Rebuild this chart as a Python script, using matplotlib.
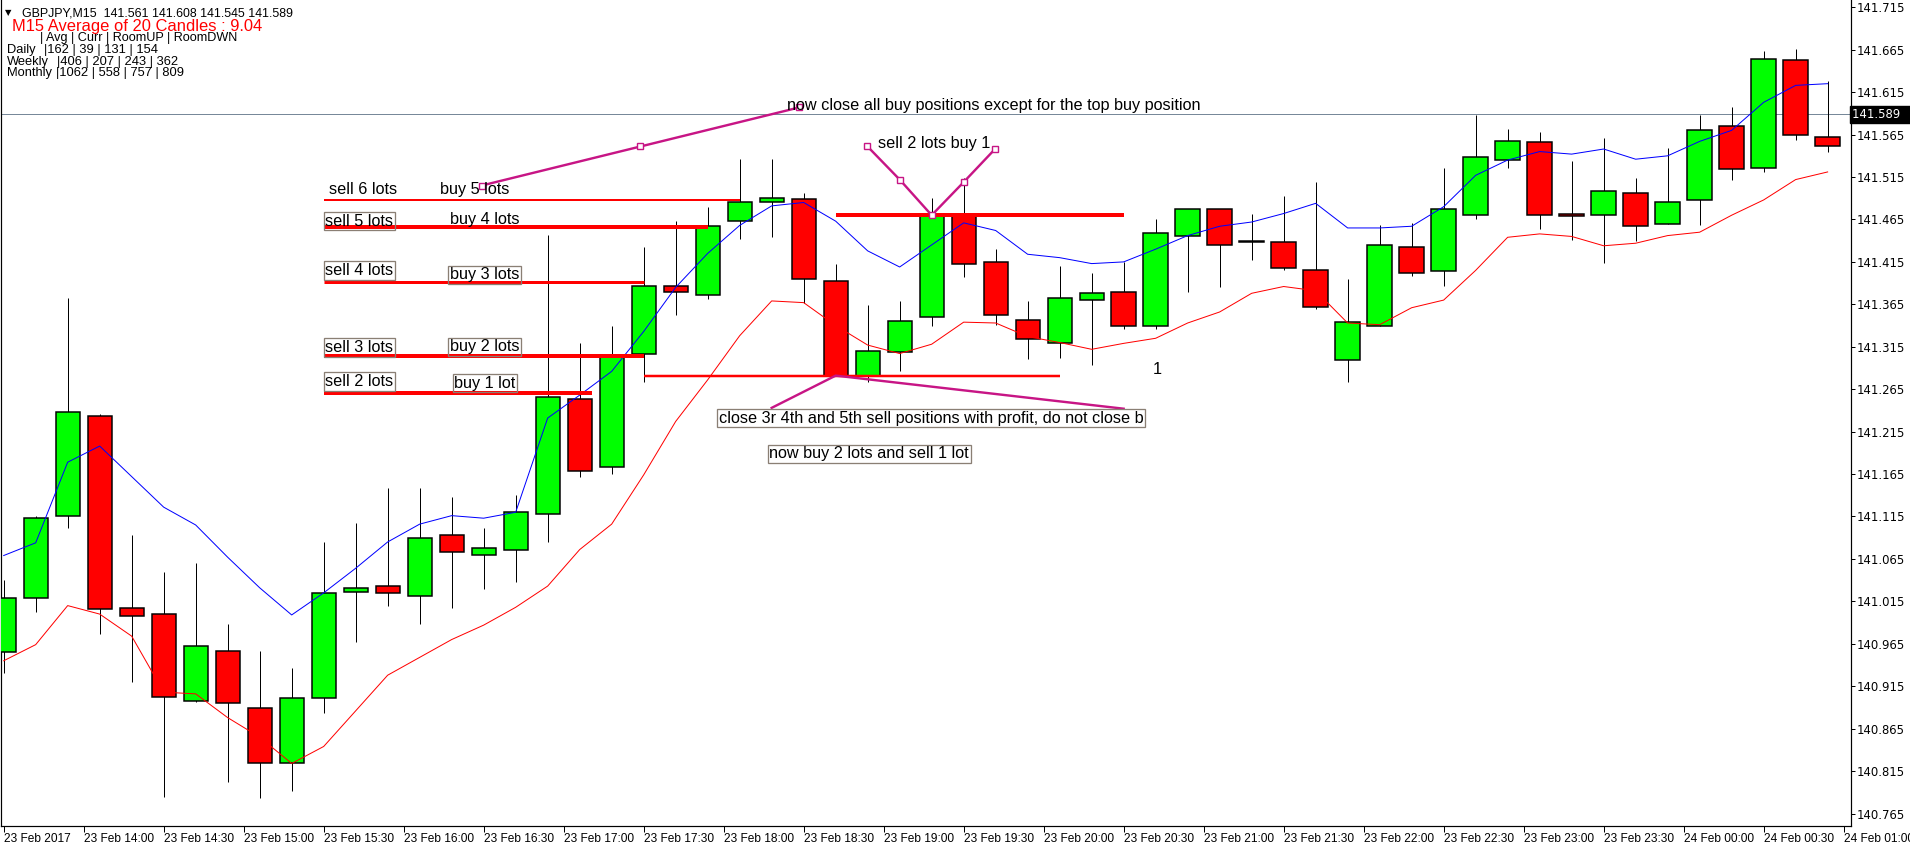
import matplotlib
matplotlib.use("Agg")
import matplotlib.pyplot as plt
from matplotlib.transforms import blended_transform_factory

# ---------------- data ----------------
opens = [140.955, 141.019, 141.115, 141.234, 141.007, 141.000, 140.898, 140.957, 140.889, 140.824,
         140.901, 141.026, 141.033, 141.021, 141.093, 141.070, 141.076, 141.118, 141.254, 141.173,
         141.307, 141.387, 141.376, 141.463, 141.486, 141.489, 141.392, 141.281, 141.309, 141.350,
         141.471, 141.415, 141.347, 141.320, 141.370, 141.379, 141.340, 141.445, 141.477, 141.438,
         141.439, 141.406, 141.299, 141.339, 141.433, 141.404, 141.470, 141.535, 141.556, 141.471,
         141.470, 141.496, 141.460, 141.488, 141.575, 141.526, 141.653, 141.562]
highs = [141.040, 141.115, 141.373, 141.236, 141.093, 141.050, 141.060, 140.988, 140.956, 140.937,
         141.085, 141.107, 141.149, 141.149, 141.138, 141.102, 141.140, 141.447, 141.320, 141.339,
         141.433, 141.463, 141.480, 141.536, 141.536, 141.496, 141.413, 141.364, 141.369, 141.490,
         141.514, 141.430, 141.369, 141.410, 141.402, 141.415, 141.466, 141.477, 141.477, 141.471,
         141.493, 141.509, 141.395, 141.459, 141.461, 141.526, 141.588, 141.572, 141.568, 141.534,
         141.561, 141.514, 141.549, 141.588, 141.598, 141.664, 141.666, 141.628]
lows = [140.930, 141.003, 141.102, 140.977, 140.920, 140.784, 140.896, 140.802, 140.783, 140.791,
        140.884, 140.967, 141.010, 140.988, 141.007, 141.030, 141.038, 141.085, 141.161, 141.165,
        141.273, 141.353, 141.371, 141.442, 141.444, 141.367, 141.281, 141.273, 141.286, 141.339,
        141.397, 141.341, 141.301, 141.302, 141.293, 141.336, 141.336, 141.379, 141.385, 141.417,
        141.406, 141.359, 141.273, 141.339, 141.398, 141.387, 141.466, 141.526, 141.454, 141.441,
        141.414, 141.440, 141.460, 141.459, 141.511, 141.521, 141.559, 141.544]
closes = [141.019, 141.113, 141.238, 141.006, 140.998, 140.902, 140.962, 140.895, 140.824, 140.901,
          141.025, 141.031, 141.025, 141.090, 141.073, 141.078, 141.120, 141.256, 141.169, 141.304,
          141.387, 141.379, 141.457, 141.485, 141.490, 141.395, 141.281, 141.310, 141.345, 141.470,
          141.413, 141.352, 141.324, 141.372, 141.378, 141.339, 141.449, 141.477, 141.435, 141.440,
          141.408, 141.362, 141.344, 141.435, 141.402, 141.477, 141.539, 141.557, 141.470, 141.469,
          141.498, 141.457, 141.486, 141.571, 141.524, 141.654, 141.565, 141.552]
ma_blue = [141.069, 141.084, 141.179, 141.198, 141.162, 141.126, 141.105, 141.067, 141.031, 140.999,
           141.025, 141.054, 141.085, 141.106, 141.116, 141.113, 141.120, 141.231, 141.258, 141.286,
           141.333, 141.385, 141.425, 141.458, 141.481, 141.485, 141.463, 141.428, 141.409, 141.435,
           141.461, 141.452, 141.424, 141.420, 141.413, 141.415, 141.430, 141.446, 141.457, 141.462,
           141.472, 141.484, 141.455, 141.455, 141.457, 141.480, 141.517, 141.535, 141.545, 141.542,
           141.548, 141.536, 141.540, 141.557, 141.570, 141.603, 141.623, 141.625]
ma_red = [140.945, 140.964, 141.010, 141.000, 140.974, 140.908, 140.906, 140.878, 140.855, 140.824,
          140.844, 140.886, 140.928, 140.949, 140.970, 140.987, 141.008, 141.033, 141.076, 141.106,
          141.164, 141.227, 141.276, 141.328, 141.369, 141.367, 141.340, 141.317, 141.307, 141.318,
          141.344, 141.343, 141.327, 141.320, 141.312, 141.319, 141.325, 141.343, 141.356, 141.378,
          141.386, 141.381, 141.343, 141.341, 141.361, 141.370, 141.405, 141.444, 141.448, 141.445,
          141.434, 141.437, 141.446, 141.450, 141.470, 141.488, 141.512, 141.521]

y_tick_labels = ["141.715", "141.665", "141.615", "141.565", "141.515", "141.465", "141.415",
                 "141.365", "141.315", "141.265", "141.215", "141.165", "141.115", "141.065",
                 "141.015", "140.965", "140.915", "140.865", "140.815", "140.765"]
x_tick_labels = ["23 Feb 2017", "23 Feb 14:00", "23 Feb 14:30", "23 Feb 15:00", "23 Feb 15:30",
                 "23 Feb 16:00", "23 Feb 16:30", "23 Feb 17:00", "23 Feb 17:30", "23 Feb 18:00",
                 "23 Feb 18:30", "23 Feb 19:00", "23 Feb 19:30", "23 Feb 20:00", "23 Feb 20:30",
                 "23 Feb 21:00", "23 Feb 21:30", "23 Feb 22:00", "23 Feb 22:30", "23 Feb 23:00",
                 "23 Feb 23:30", "24 Feb 00:00", "24 Feb 00:30", "24 Feb 01:00"]

bid_price = 141.589
header_symbol = "GBPJPY,M15  141.561 141.608 141.545 141.589"
header_avg = "M15 Average of 20 Candles : 9.04"
table_head = "| Avg | Curr | RoomUP | RoomDWN"
table_rows = ["Daily", "Weekly", "Monthly"]
table_vals = ["|162 | 39 | 131 | 154", "|406 | 207 | 243 | 362", "|1062 | 558 | 757 | 809"]

# horizontal level objects (start bar, end bar, price)
level_start = [10, 10, 10, 10, 10, 20, 26]
level_end = [23, 22, 20, 20, 18.4, 33, 35]
level_price = [141.488, 141.456, 141.391, 141.304, 141.260, 141.281, 141.470]

# text objects (bar, price, text)
note_x = [10.18, 13.63, 10.05, 13.95, 10.05, 13.95, 10.05, 13.95, 10.05, 14.08,
          24.48, 27.32, 22.35, 23.93, 35.9]
note_y = [141.500, 141.500, 141.463, 141.465, 141.405, 141.400, 141.314, 141.315, 141.274, 141.272,
          141.599, 141.555, 141.231, 141.189, 141.288]
note_text = ["sell 6 lots", "buy 5 lots", "sell 5 lots", "buy 4 lots", "sell 4 lots", "buy 3 lots",
             "sell 3 lots", "buy 2 lots", "sell 2 lots", "buy 1 lot",
             "now close all buy positions except for the top buy position", "sell 2 lots buy 1",
             "close 3r 4th and 5th sell positions with profit, do not close b",
             "now buy 2 lots and sell 1 lot", "1"]
note_boxed = [False, False, True, False, True, True, True, True, True, True,
              False, False, True, True, False]

# trend-line objects
trend1_x = [14.94, 19.90, 24.86]
trend1_y = [141.505, 141.551, 141.597]
trend2_x = [26.97, 28.0, 29.0, 30.0, 30.98]
trend2_y = [141.552, 141.512, 141.470, 141.509, 141.548]
trend3_x = [24.0, 26.0, 35.0]
trend3_y = [141.243, 141.281, 141.242]

# ---------------- layout ----------------
W, H = 1910, 850
fig = plt.figure(figsize=(W / 100, H / 100), dpi=100)
ax = fig.add_axes([1 / W, 24 / H, 1850 / W, 826 / H])
ax.set_xlim(-0.084, 57.73)
ax.set_ylim(140.7503, 141.7236)

PX = 0.72  # points per pixel
GREEN, RED, MAG = "#00FF00", "#FF0000", "#C71585"

idx = list(range(len(opens)))
# wicks
ax.vlines(idx, lows, highs, color="black", lw=1.0 * PX, zorder=3)
# bodies
bottoms = [min(o, c) for o, c in zip(opens, closes)]
heights = [max(abs(c - o), 0.0012) for o, c in zip(opens, closes)]
colors = [GREEN if c >= o else RED for o, c in zip(opens, closes)]
ax.bar(idx, heights, bottom=bottoms, width=0.76, color=colors, edgecolor="black",
       linewidth=1.5 * PX, zorder=4)

# moving averages
ax.plot(idx, ma_blue, color="#0000FF", lw=1.0 * PX, zorder=5)
ax.plot(idx, ma_red, color="#FF0000", lw=1.0 * PX, zorder=5)

# bid line
ax.axhline(bid_price, color="#778899", lw=1.0 * PX, zorder=1)

# level lines
level_w = [2, 4, 3, 4, 4, 2.5, 4]
for s, e, p, w in zip(level_start, level_end, level_price, level_w):
    ax.plot([s, e], [p, p], color=RED, lw=w * PX, solid_capstyle="butt", zorder=6)

# trend lines
for tx, ty, mk in [(trend1_x, trend1_y, True), (trend2_x, trend2_y, True), (trend3_x, trend3_y, False)]:
    ax.plot(tx, ty, color=MAG, lw=2.4 * PX, zorder=7)
    if mk:
        ax.plot(tx, ty, ls="none", marker="s", ms=4, mfc="white", mec=MAG, mew=1.4 * PX, zorder=8)

# text objects
for x, y, t, b in zip(note_x, note_y, note_text, note_boxed):
    kw = {}
    if b:
        kw["bbox"] = dict(boxstyle="square,pad=0.1", fc="none", ec="#8a7f74", lw=1.3 * PX)
    ax.text(x, y, t, ha="left", va="center", fontsize=11.7, family="Liberation Sans",
            color="black", zorder=9, **kw)

# axes styling
for sp in ["left", "bottom", "right"]:
    ax.spines[sp].set_color("black")
    ax.spines[sp].set_linewidth(1.2 * PX)
ax.spines["top"].set_visible(False)
ax.yaxis.tick_right()
ax.set_yticks([float(v) for v in y_tick_labels])
ax.set_yticklabels(y_tick_labels, fontsize=8.4, family="DejaVu Sans")
ax.tick_params(axis="y", direction="out", length=4 * PX, width=1 * PX, pad=1.5, colors="black")
xt = [2.5 * k for k in range(len(x_tick_labels))]
ax.set_xticks(xt)
ax.set_xticklabels(x_tick_labels, fontsize=8.6, family="Liberation Sans", ha="left")
ax.tick_params(axis="x", direction="out", length=6 * PX, width=1 * PX, pad=1.0, colors="black")

# bid label on price axis
trans = blended_transform_factory(ax.transAxes, ax.transData)
ax.text(1.0006, bid_price, "141.589  ", transform=trans, ha="left", va="center",
        fontsize=8.4, family="DejaVu Sans", color="white", clip_on=False, zorder=10,
        bbox=dict(boxstyle="square,pad=0.18", fc="black", ec="black"))

# header
def ftext(x, y, s, **kw):
    fig.text(x / W, 1 - y / H, s, va="center", ha="left", **kw)

ftext(5, 13, "\u25BC", fontsize=6, family="DejaVu Sans", color="black")
ftext(21.5, 14, header_symbol, fontsize=8.9, family="Liberation Sans", color="black")
ftext(12, 27, header_avg, fontsize=11.9, family="Liberation Sans", color="#FF0000")
ftext(40, 37.5, table_head, fontsize=9.1, family="Liberation Sans", color="black")
row_y = [49.5, 61.5, 73]
val_x = [44, 56.5, 55.5]
for r, v, y, vx in zip(table_rows, table_vals, row_y, val_x):
    ftext(7, y, r, fontsize=9.3, family="Liberation Sans", color="black")
    ftext(vx, y, v, fontsize=9.3, family="Liberation Sans", color="black")

fig.savefig("out.png", dpi=100, facecolor="white")
